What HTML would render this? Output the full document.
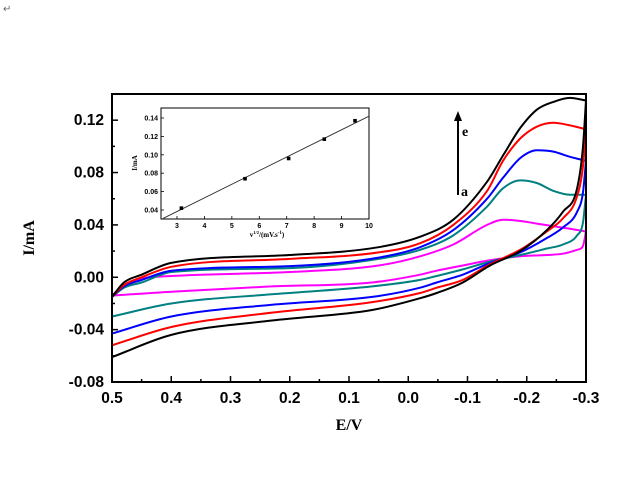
<!DOCTYPE html>
<html><head><meta charset="utf-8"><style>
html,body{margin:0;padding:0;background:#fff;}
svg{display:block;}
.tk{font-family:"Liberation Sans",sans-serif;font-weight:bold;font-size:15.5px;fill:#000;}
.it{font-family:"Liberation Sans",sans-serif;font-weight:bold;font-size:7px;fill:#000;}
.ser{font-family:"Liberation Serif",serif;font-weight:bold;fill:#000;}
</style></head><body>
<svg id="chart" width="638" height="481" viewBox="0 0 638 481">
<text x="3" y="12" font-size="10" fill="#666" font-family="DejaVu Sans, sans-serif">↵</text>
<g id="main"></g>
<g id="inset"></g>
</svg>
<script>
const upperE=[0.5,0.48,0.45,0.4,0.2,0.05,-0.02,-0.076,-0.133,-0.16,-0.189,-0.217,-0.245,-0.273,-0.3];
const lowerE=[-0.3,-0.295,-0.285,-0.261,-0.234,-0.189,-0.138,-0.092,-0.048,-0.02,0.061,0.23,0.40,0.5];
const seriesNames=['a','b','c','d','e'];
const seriesColors=['#ff00ff','#008080','#0000ff','#ff0000','#000000'];
const upperA=[-0.014,-0.006,-0.001,0.001,0.004,0.009,0.016,0.025,0.040,0.044,0.043,0.041,0.039,0.037,0.035];
const upperB=[-0.015,-0.008,-0.004,0.004,0.007,0.014,0.021,0.032,0.054,0.068,0.074,0.072,0.066,0.063,0.063];
const upperC=[-0.015,-0.007,-0.002,0.005,0.0085,0.015,0.023,0.036,0.060,0.076,0.091,0.097,0.096,0.092,0.089];
const upperD=[-0.015,-0.006,0.000,0.008,0.014,0.019,0.026,0.040,0.066,0.089,0.106,0.115,0.118,0.116,0.113];
const upperEe=[-0.015,-0.004,0.002,0.011,0.017,0.023,0.031,0.044,0.073,0.093,0.114,0.128,0.134,0.137,0.135];
const lowerA=[0.035,0.024,0.021,0.018,0.017,0.016,0.013,0.009,0.005,0.002,-0.004,-0.007,-0.011,-0.014];
const lowerB=[0.063,0.042,0.032,0.025,0.022,0.017,0.012,0.006,0.001,-0.002,-0.007,-0.013,-0.020,-0.030];
const lowerC=[0.089,0.065,0.050,0.038,0.030,0.019,0.011,0.002,-0.004,-0.008,-0.015,-0.021,-0.030,-0.043];
const lowerD=[0.113,0.085,0.062,0.045,0.035,0.021,0.010,-0.002,-0.008,-0.012,-0.019,-0.027,-0.038,-0.052];
const lowerEe=[0.135,0.10,0.068,0.050,0.036,0.020,0.009,-0.004,-0.012,-0.016,-0.025,-0.033,-0.044,-0.061];
const xTicks=[0.5,0.4,0.3,0.2,0.1,0.0,-0.1,-0.2,-0.3];
const xTickLabels=['0.5','0.4','0.3','0.2','0.1','0.0','-0.1','-0.2','-0.3'];
const yTicks=[-0.08,-0.04,0.00,0.04,0.08,0.12];
const yTickLabels=['-0.08','-0.04','0.00','0.04','0.08','0.12'];
const insetX=[3.16,5.48,7.07,8.37,9.49];
const insetY=[0.042,0.074,0.096,0.117,0.137];
const insetFitX=[2.5,10];
const insetFitY=[0.031,0.142];
const insetXTicks=[3,4,5,6,7,8,9,10];
const insetYTicks=[0.04,0.06,0.08,0.10,0.12,0.14];
const insetYTickLabels=['0.04','0.06','0.08','0.10','0.12','0.14'];

const NS='http://www.w3.org/2000/svg';
function mk(tag,attrs,parent){const e=document.createElementNS(NS,tag);for(const k in attrs)e.setAttribute(k,attrs[k]);parent.appendChild(e);return e;}
const L=112,R=586,T=94,B=382;
const sx=E=>L+(0.5-E)/0.8*(R-L);
const sy=v=>B-(v+0.08)/0.22*(B-T);
const main=document.getElementById('main');

function monoPath(pts){
 const n=pts.length,xs=pts.map(p=>p[0]),ys=pts.map(p=>p[1]);
 const d=[],m=new Array(n);
 for(let i=0;i<n-1;i++)d.push((ys[i+1]-ys[i])/(xs[i+1]-xs[i]));
 m[0]=d[0];m[n-1]=d[n-2];
 for(let i=1;i<n-1;i++){m[i]=(d[i-1]*d[i]<=0)?0:(d[i-1]+d[i])/2;}
 for(let i=0;i<n-1;i++){if(d[i]===0){m[i]=0;m[i+1]=0;continue;}
  const a=m[i]/d[i],b=m[i+1]/d[i],s=a*a+b*b;if(s>9){const t=3/Math.sqrt(s);m[i]=t*a*d[i];m[i+1]=t*b*d[i];}}
 let out=`M${xs[0].toFixed(1)},${ys[0].toFixed(1)}`;
 for(let i=0;i<n-1;i++){const h=(xs[i+1]-xs[i])/3;
  out+=` C${(xs[i]+h).toFixed(1)},${(ys[i]+m[i]*h).toFixed(1)} ${(xs[i+1]-h).toFixed(1)},${(ys[i+1]-m[i+1]*h).toFixed(1)} ${xs[i+1].toFixed(1)},${ys[i+1].toFixed(1)}`;}
 return out;
}
const uppers=[upperA,upperB,upperC,upperD,upperEe],lowers=[lowerA,lowerB,lowerC,lowerD,lowerEe];
for(let s=0;s<5;s++){
 const up=upperE.map((E,i)=>[sx(E),sy(uppers[s][i])]);
 const lo=lowerE.map((E,i)=>[sx(E),sy(lowers[s][i])]).reverse();
 const last=up[up.length-1],loEnd=lo[lo.length-1],lo0=lo[0];
 const p2=mk('path',{d:monoPath(up)+` L${loEnd[0].toFixed(1)},${loEnd[1].toFixed(1)}`,fill:'none',stroke:seriesColors[s],'stroke-width':2,'stroke-linejoin':'round'},main);
 
 
 const p3=mk('path',{d:`M${up[0][0].toFixed(1)},${up[0][1].toFixed(1)} L${lo0[0].toFixed(1)},${lo0[1].toFixed(1)} `+monoPath(lo).replace(/^M/,'L'),fill:'none',stroke:seriesColors[s],'stroke-width':2,'stroke-linejoin':'round'},main);
 
 
}
mk('rect',{x:L,y:T,width:R-L,height:B-T,fill:'none',stroke:'#000','stroke-width':2,},main);
xTicks.forEach((v,i)=>{const x=sx(v);mk('line',{x1:x,y1:B,x2:x,y2:B-6,stroke:'#000','stroke-width':1.5},main);
 if(i<xTicks.length-1){const xm=sx(v-0.05);mk('line',{x1:xm,y1:B,x2:xm,y2:B-3,stroke:'#000','stroke-width':1.5},main);}
 const t=mk('text',{x:x,y:B+21,'text-anchor':'middle',class:'tk'},main);t.textContent=xTickLabels[i];
 
 });
yTicks.forEach((v,i)=>{const y=sy(v);mk('line',{x1:L,y1:y,x2:L+6,y2:y,stroke:'#000','stroke-width':1.5},main);
 const ym=sy(v+0.02);mk('line',{x1:L,y1:ym,x2:L+3,y2:ym,stroke:'#000','stroke-width':1.5},main);
 const t=mk('text',{x:L-8,y:y+5,'text-anchor':'end',class:'tk'},main);t.textContent=yTickLabels[i];
 
 });
let t=mk('text',{x:349,y:430,'text-anchor':'middle',class:'ser','font-size':16,},main);t.textContent='E/V';
t=mk('text',{x:0,y:0,'text-anchor':'middle',class:'ser','font-size':16,transform:'translate(34,238) rotate(-90)',},main);t.textContent='I/mA';
mk('line',{x1:458,y1:195,x2:458,y2:120,stroke:'#000','stroke-width':2,},main);
mk('path',{d:'M454,121 L458,111 L462,121 Z',fill:'#000'},main);
t=mk('text',{x:462,y:136,class:'ser','font-size':14,},main);t.textContent='e';
t=mk('text',{x:461,y:196,class:'ser','font-size':14,},main);t.textContent='a';

// inset
const ins=document.getElementById('inset');
const iL=161,iR=369,iT=108,iB=219;
const ix=v=>177+(v-3)*(369-177)/7;
const iy=v=>210-(v-0.04)*(210-118)/0.10;
mk('rect',{x:iL,y:iT,width:iR-iL,height:iB-iT,fill:'#fff',stroke:'#000','stroke-width':1,},ins);
const fit=mk('line',{x1:ix(insetFitX[0]),y1:iy(insetFitY[0]),x2:ix(insetFitX[1]),y2:iy(insetFitY[1]),stroke:'#333','stroke-width':1},ins);


insetX.forEach((v,i)=>{const c=mk('rect',{x:ix(v)-1.8,y:iy(insetY[i])-1.8,width:3.6,height:3.6,fill:'#000'},ins);
 
 });
insetXTicks.forEach(v=>{const x=ix(v);mk('line',{x1:x,y1:iB,x2:x,y2:iB-3,stroke:'#000','stroke-width':0.8},ins);
 const tt=mk('text',{x:x,y:iB+9,'text-anchor':'middle',class:'it'},ins);tt.textContent=String(v);
 
 });
insetYTicks.forEach((v,i)=>{const y=iy(v);mk('line',{x1:iL,y1:y,x2:iL+3,y2:y,stroke:'#000','stroke-width':0.8},ins);
 const tt=mk('text',{x:iL-3,y:y+2.5,'text-anchor':'end',class:'it'},ins);tt.textContent=insetYTickLabels[i];
 
 });
t=mk('text',{x:267,y:237,'text-anchor':'middle',class:'ser','font-size':7,},ins);
t.innerHTML='v<tspan font-size="4.5" dy="-3">1/2</tspan><tspan dy="3">/(mV.s</tspan><tspan font-size="5" dy="-3">-1</tspan><tspan dy="3">)</tspan>';
t=mk('text',{x:0,y:0,'text-anchor':'middle',class:'ser','font-size':7,transform:'translate(137,163) rotate(-90)',},ins);t.textContent='I/mA';
</script>
</body></html>
